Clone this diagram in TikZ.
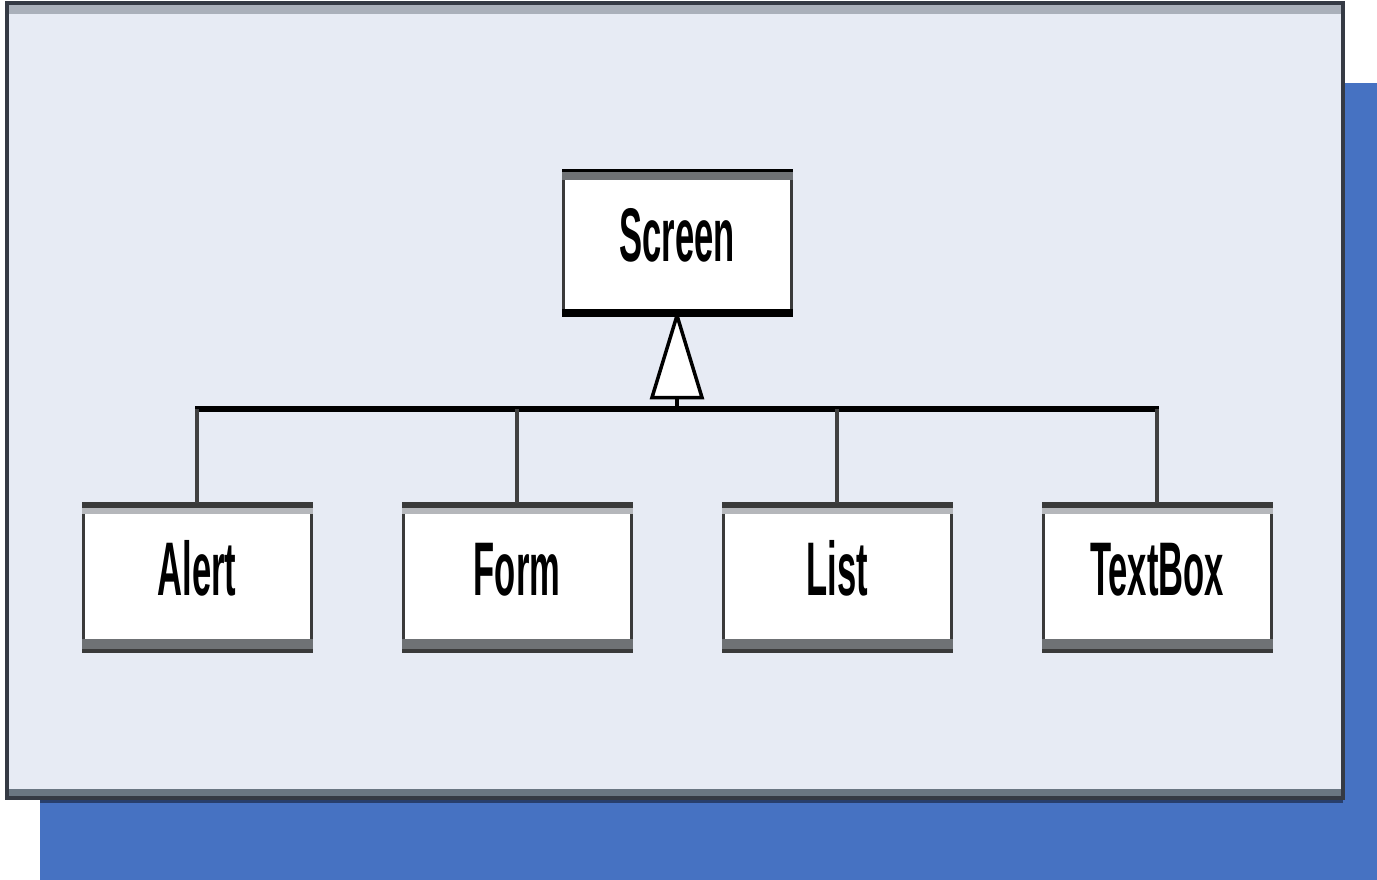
\documentclass[tikz,border=0pt]{standalone}
\usepackage{fontspec}
\usepackage{graphicx}
\newfontfamily\lblfont{Liberation Sans}
\definecolor{shadowblue}{HTML}{4672C2}
\definecolor{panelfill}{HTML}{E7EBF4}
\definecolor{panelline}{HTML}{353A44}
\definecolor{paneltop}{HTML}{AAB0BA}
\definecolor{panelbot}{HTML}{6A7682}
\definecolor{navyband}{HTML}{283F6C}
\definecolor{boxline}{HTML}{3A3A3A}
\definecolor{bandlight}{HTML}{B5B7BB}
\definecolor{banddark}{HTML}{6F7275}
% condensed label, lifted a little above the box centre
\newcommand\classname[1]{\raisebox{9pt}{\scalebox{0.455}[1]{#1}}}
\tikzset{
  classbox/.style={draw=boxline, line width=3pt, fill=white,
    minimum width=228pt, minimum height=142pt, inner sep=0pt,
    text height=55pt, text depth=0pt,
    font=\lblfont\bfseries\fontsize{76}{82}\selectfont},
  bus/.style={line width=6pt, black},
  stem/.style={line width=3.5pt, black!75},
}
\begin{document}
\begin{tikzpicture}[x=1pt,y=-1pt]
\useasboundingbox (0,0) rectangle (1377,880);
% drop shadow and panel
\fill[shadowblue] (40,83) rectangle (1377,880);
\fill[panelfill] (7,3) rectangle (1343,800);
\fill[paneltop] (9,5) rectangle (1341,14);
\fill[panelbot] (9,789) rectangle (1341,797);
\fill[navyband] (40,797) rectangle (1343,803);
\draw[panelline, line width=4pt] (7,3) rectangle (1343,798);

% classes
\node[classbox] (Screen) at (677,243) {\classname{Screen}};
\node[classbox, minimum height=145pt] (Alert)   at (197,577) {\classname{Alert}};
\node[classbox, minimum height=145pt] (Form)    at (517,577) {\classname{Form}};
\node[classbox, minimum height=145pt] (List)    at (837,577) {\classname{List}};
\node[classbox, minimum height=145pt] (TextBox) at (1157,577) {\classname{TextBox}};

% thick top and bottom edges of the class boxes
\fill[banddark] ([yshift=1.5pt]Screen.north west) rectangle ([yshift=-10pt]Screen.north east);
\fill[black] ([yshift=1.5pt]Screen.north west) rectangle ([yshift=-2pt]Screen.north east);
\fill[black] ([yshift=7pt]Screen.south west) rectangle ([yshift=-1.5pt]Screen.south east);
\foreach \n in {Alert,Form,List,TextBox}{
  \fill[bandlight] ([yshift=1.5pt]\n.north west) rectangle ([yshift=-11pt]\n.north east);
  \fill[boxline] ([yshift=1.5pt]\n.north west) rectangle ([yshift=-5pt]\n.north east);
  \fill[banddark] ([yshift=12pt]\n.south west) rectangle ([yshift=-1.5pt]\n.south east);
  \fill[boxline] ([yshift=2pt]\n.south west) rectangle ([yshift=-1.5pt]\n.south east);
}

% generalization: hollow triangle, stem and bus
\coordinate (busmid) at (Screen.south |- 0,409);
\draw[line width=3.5pt, fill=white, line join=miter]
  (Screen.south) -- ++(-25,82) -- ++(50,0) -- cycle;
\draw[line width=4pt, black] ([yshift=-82pt]Screen.south) -- (busmid);
\draw[bus] ([xshift=-2pt]Alert.north |- busmid) -- ([xshift=2pt]TextBox.north |- busmid);
\foreach \n in {Alert,Form,List,TextBox}
  \draw[stem] (\n.north |- busmid) -- (\n.north);
\end{tikzpicture}
\end{document}
